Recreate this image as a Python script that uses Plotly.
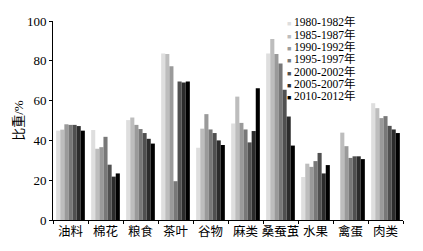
import plotly.graph_objects as go

categories = ["油料", "棉花", "粮食", "茶叶", "谷物", "麻类", "桑蚕茧", "水果", "禽蛋", "肉类"]
series_names = ["1980-1982年", "1985-1987年", "1990-1992年", "1995-1997年",
                "2000-2002年", "2005-2007年", "2010-2012年"]
series_colors = ["#dedede", "#bdbdbd", "#9a9a9a", "#787878", "#505050", "#2c2c2c", "#000000"]

s1980 = [44.9, 45.2, 50.2, 83.7, 36.3, 48.5, 83.7, 21.6, None, 58.7]
s1985 = [45.4, 35.8, 51.5, 83.4, 45.9, 62.0, 91.0, 28.3, 43.9, 56.2]
s1990 = [48.1, 36.6, 47.8, 77.2, 53.2, 48.8, 83.4, 26.7, 37.1, 51.2]
s1995 = [47.8, 41.8, 45.7, 19.5, 45.5, 45.5, 78.7, 29.6, 31.2, 52.2]
s2000 = [47.8, 27.8, 43.7, 69.6, 43.7, 39.0, 65.5, 33.7, 32.0, 47.3]
s2005 = [47.2, 21.8, 40.8, 69.1, 40.0, 44.7, 52.0, 23.4, 32.0, 45.5]
s2010 = [44.9, 23.4, 38.4, 69.6, 37.7, 66.2, 37.4, 27.6, 30.6, 43.7]
series_values = [s1980, s1985, s1990, s1995, s2000, s2005, s2010]

y_ticks = [0, 20, 40, 60, 80, 100]
y_title = "比重/%"

W, H = 423, 251
ML, MR, MT, MB = 53, 20, 21, 25
font_fam = "Liberation Serif, Noto Sans CJK SC, serif"

fig = go.Figure()
for name, color, vals in zip(series_names, series_colors, series_values):
    fig.add_trace(go.Bar(x=categories, y=vals, name=name,
                         marker=dict(color=color, line=dict(width=0)),
                         showlegend=False))

# legend drawn as annotations (compact spacing like the reference)
pw = W - ML - MR
ph = H - MT - MB
leg_x_px = 286
leg_y0_px = 22
leg_dy_px = 12.7
for i, (name, color) in enumerate(zip(series_names, series_colors)):
    ypx = leg_y0_px + i * leg_dy_px
    fig.add_annotation(
        xref="paper", yref="paper",
        x=(leg_x_px - ML) / pw, y=(H - MB - ypx) / ph,
        xanchor="left", yanchor="middle", showarrow=False, borderpad=0,
        text=f'<span style="color:{color};font-size:7px">■</span> {name}',
        font=dict(family=font_fam, size=11.5, color="#000"),
    )

fig.update_layout(
    width=W, height=H,
    margin=dict(l=ML, r=MR, t=MT, b=MB, pad=0),
    paper_bgcolor="white", plot_bgcolor="white",
    barmode="group", bargap=0.18, bargroupgap=0,
    font=dict(family=font_fam, size=13, color="#000"),
)
fig.update_xaxes(
    type="category", showgrid=False, showline=True, linecolor="#000", linewidth=1,
    ticks="outside", tickson="boundaries", ticklen=3, tickcolor="#000",
    tickfont=dict(size=12.5), tickangle=0, range=[-0.5, 9.5],
)
fig.update_yaxes(
    range=[0, 100], tickvals=y_ticks, showgrid=False, showline=True,
    linecolor="#000", linewidth=1, ticks="outside", ticklen=3, tickcolor="#000",
    tickfont=dict(size=13), zeroline=False,
    title=dict(text=y_title, font=dict(size=13), standoff=0),
)

fig.write_html("out.html")
